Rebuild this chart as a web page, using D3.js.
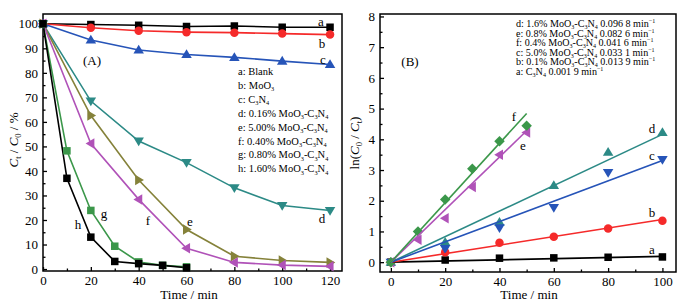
<!DOCTYPE html>
<html>
<head>
<meta charset="utf-8">
<script src="https://cdn.jsdelivr.net/npm/d3@7"></script>
<style>
  body { margin: 0; background: #fff; }
  svg text { font-family: "Liberation Serif", "DejaVu Serif", serif; font-weight: normal; fill: #000; }
</style>
</head>
<body>
<div id="chart"></div>
<script>
// ---- data, panel A: C/C0 (%) vs time ----
var timeA = [0, 20, 40, 60, 80, 100, 120];
var timeFast = [0, 10, 20, 30, 40, 50, 60];
var blankA = [100, 99.7, 99.4, 98.9, 99.1, 98.6, 98.6];
var moo3A = [100, 98.4, 97.2, 96.6, 96.4, 96.0, 95.6];
var c3n4A = [100, 93.4, 89.3, 87.5, 86.3, 84.8, 83.4];
var d016A = [100, 68.5, 52.2, 43.4, 33.1, 25.9, 23.9];
var e500A = [100, 62.6, 36.3, 16.1, 5.2, 3.5, 2.7];
var f040A = [100, 51.2, 28.4, 8.5, 2.7, 1.6, 1.1];
var g080A = [100, 48.2, 23.9, 9.3, 2.9, 1.5, 0.9];
var h160A = [100, 37, 13, 3.1, 2.2, 1.5, 0.5];
var curveLabelsA = ["a", "b", "c", "d", "e", "f", "g", "h"];
var legendA = [
  ["a: Blank"], ["b: MoO", "3"], ["c: C", "3", "N", "4"],
  ["d: 0.16% MoO", "3", "-C", "3", "N", "4"],
  ["e: 5.00% MoO", "3", "-C", "3", "N", "4"],
  ["f: 0.40% MoO", "3", "-C", "3", "N", "4"],
  ["g: 0.80% MoO", "3", "-C", "3", "N", "4"],
  ["h: 1.60% MoO", "3", "-C", "3", "N", "4"]
];

// ---- data, panel B: ln(C0/C) vs time ----
var timeB = [0, 20, 40, 60, 80, 100];
var timeB2 = [0, 10, 20, 30, 40, 50];
var aB = [0, 0.07, 0.13, 0.14, 0.16, 0.17];
var bB = [0, 0.32, 0.63, 0.83, 1.10, 1.35];
var cB = [0, 0.44, 1.12, 1.78, 2.92, 3.34];
var dB = [0, 0.65, 1.3, 2.5, 3.58, 4.22];
var eB = [0, 0.73, 1.43, 2.45, 3.5, 4.22];
var fB = [0, 1.0, 2.04, 3.04, 3.94, 4.44];
// fitted line end points [x, y], each line starts at (0, 0)
var fitEndB = { a: [100, 0.19], b: [100, 1.39], c: [100, 3.31], d: [100, 4.16], e: [50, 4.28], f: [50, 4.84] };
var legendB = [
  ["d: 1.6% MoO", "3", "-C", "3", "N", "4", " 0.096 8 min", "−1"],
  ["e: 0.8% MoO", "3", "-C", "3", "N", "4", " 0.082 6 min", "−1"],
  ["f: 0.4% MoO", "3", "-C", "3", "N", "4", " 0.041 6 min", "−1"],
  ["c: 5.0% MoO", "3", "-C", "3", "N", "4", " 0.033 1 min", "−1"],
  ["b: 0.1% MoO", "3", "-C", "3", "N", "4", " 0.013 9 min", "−1"],
  ["a: C", "3", "N", "4", " 0.001 9 min", "−1"]
];

var colors = {
  black: "#000000", red: "#f52a2a", blue: "#2654b8", teal: "#2c8a86",
  olive: "#85823a", magenta: "#b052b8", green: "#3b974a"
};

var svg = d3.select("#chart").append("svg")
  .attr("width", 686).attr("height", 304);

// marker generator
function marker(g, type, color, x, y, size) {
  var s = size;
  if (type == "square") {
    g.append("rect").attr("x", x - s / 2).attr("y", y - s / 2)
      .attr("width", s).attr("height", s).attr("fill", color);
  } else if (type == "circle") {
    g.append("circle").attr("cx", x).attr("cy", y).attr("r", s / 2 + 0.5).attr("fill", color);
  } else if (type == "diamond") {
    var r = s / 2 + 1.5;
    g.append("path").attr("d", `M${x},${y - r}L${x + r},${y}L${x},${y + r}L${x - r},${y}Z`).attr("fill", color);
  } else {
    var r2 = s / 2 + 1.5, h = r2 * 0.9;
    var p;
    if (type == "up") p = [[x, y - r2], [x + r2, y + h * 0.75], [x - r2, y + h * 0.75]];
    if (type == "down") p = [[x, y + r2], [x + r2, y - h * 0.75], [x - r2, y - h * 0.75]];
    if (type == "left") p = [[x - r2, y], [x + h * 0.75, y - r2], [x + h * 0.75, y + r2]];
    if (type == "right") p = [[x + r2, y], [x - h * 0.75, y - r2], [x - h * 0.75, y + r2]];
    g.append("path").attr("d", "M" + p.join("L") + "Z").attr("fill", color);
  }
}

// text with subscripts / superscripts: parts alternate normal, script
function richText(g, parts, x, y, size) {
  var t = g.append("text").attr("x", x).attr("y", y).attr("font-size", size + "px");
  parts.forEach(function (p, i) {
    var span = t.append("tspan").text(p);
    if (i % 2 == 1) {
      var shift = (p == "−1") ? -size * 0.35 : size * 0.22;
      span.attr("font-size", (size * 0.6) + "px").attr("dy", shift);
    } else if (i > 0) {
      var back = (parts[i - 1] == "−1") ? size * 0.35 : -size * 0.22;
      span.attr("dy", back);
    }
  });
  return t;
}

function drawAxes(g, x, y, xMajor, xMinor, yMajor, yMinor) {
  var bottom = y.range()[0], left = x.range()[0];
  g.append("g").attr("transform", `translate(0,${bottom})`)
    .call(d3.axisBottom(x).tickValues(xMajor).tickSize(-4).tickPadding(5).tickSizeOuter(0));
  g.append("g").attr("transform", `translate(0,${bottom})`)
    .call(d3.axisBottom(x).tickValues(xMinor).tickSize(-2.5).tickFormat("").tickSizeOuter(0));
  g.append("g").attr("transform", `translate(${left},0)`)
    .call(d3.axisLeft(y).tickValues(yMajor).tickSize(-4).tickPadding(5).tickSizeOuter(0));
  g.append("g").attr("transform", `translate(${left},0)`)
    .call(d3.axisLeft(y).tickValues(yMinor).tickSize(-2.5).tickFormat("").tickSizeOuter(0));
  g.selectAll(".domain").remove();
  g.selectAll(".tick line").attr("stroke", "#000").attr("stroke-width", 1.3);
  g.selectAll(".tick text").attr("font-size", "13px");
  g.append("rect").attr("x", left).attr("y", y.range()[1])
    .attr("width", x.range()[1] - left)
    .attr("height", bottom - y.range()[1])
    .attr("fill", "none").attr("stroke", "#000").attr("stroke-width", 1.5);
}

// ================= panel A =================
var gA = svg.append("g");
var xA = d3.scaleLinear().domain([0, 125]).range([43, 342]);
var yA = d3.scaleLinear().domain([-0.8, 104]).range([271, 14]);
drawAxes(gA, xA, yA,
  d3.range(0, 121, 20), d3.range(10, 121, 20),
  d3.range(0, 101, 10), d3.range(5, 101, 10));

var seriesA = [
  { t: timeA, v: blankA, color: colors.black, m: "square" },
  { t: timeA, v: moo3A, color: colors.red, m: "circle" },
  { t: timeA, v: c3n4A, color: colors.blue, m: "up" },
  { t: timeA, v: d016A, color: colors.teal, m: "down" },
  { t: timeA, v: e500A, color: colors.olive, m: "right" },
  { t: timeA, v: f040A, color: colors.magenta, m: "left" },
  { t: timeFast, v: g080A, color: colors.green, m: "square" },
  { t: timeFast, v: h160A, color: colors.black, m: "square" }
];
var lineA = d3.line().x(d => xA(d[0])).y(d => yA(d[1]));
seriesA.forEach(function (s) {
  var pts = s.t.map((t, i) => [t, s.v[i]]);
  gA.append("path").datum(pts).attr("d", lineA)
    .attr("fill", "none").attr("stroke", s.color).attr("stroke-width", 1.6);
});
seriesA.forEach(function (s) {
  s.t.forEach(function (t, i) {
    marker(gA, s.m, s.color, xA(t), yA(s.v[i]), 7.5);
  });
});

// curve letter positions in pixels
var labelPosA = [[321, 26], [322, 48], [323, 64], [322, 223], [190, 226], [148, 225], [104, 218], [78, 229]];
gA.selectAll(".lab").data(curveLabelsA).enter().append("text")
  .attr("x", (d, i) => labelPosA[i][0]).attr("y", (d, i) => labelPosA[i][1])
  .attr("text-anchor", "middle").attr("font-size", "13px").text(d => d);

gA.append("text").attr("x", 92).attr("y", 65).attr("text-anchor", "middle")
  .attr("font-size", "13px").text("(A)");

legendA.forEach(function (parts, i) {
  richText(gA, parts, 238, 75 + i * 13.9, 10.5);
});

gA.append("text").attr("x", 189).attr("y", 299).attr("text-anchor", "middle")
  .attr("font-size", "13px").text("Time / min");

var yTitleA = gA.append("text").attr("transform", "translate(18,140) rotate(-90)")
  .attr("text-anchor", "middle").attr("font-size", "13px");
yTitleA.append("tspan").attr("font-style", "italic").text("C");
yTitleA.append("tspan").attr("font-size", "8.5px").attr("dy", 3).text("t");
yTitleA.append("tspan").attr("dy", -3).text(" / ");
yTitleA.append("tspan").attr("font-style", "italic").text("C");
yTitleA.append("tspan").attr("font-size", "8.5px").attr("dy", 3).text("0");
yTitleA.append("tspan").attr("dy", -3).text(" / %");

// ================= panel B =================
var gB = svg.append("g");
var xB = d3.scaleLinear().domain([-4, 105]).range([380, 676]);
var yB = d3.scaleLinear().domain([-0.32, 8.08]).range([272, 14]);
drawAxes(gB, xB, yB,
  d3.range(0, 101, 20), d3.range(10, 101, 20),
  d3.range(0, 9, 1), d3.range(0.5, 8, 1));

var seriesB = [
  { key: "a", t: timeB, v: aB, color: colors.black, m: "square" },
  { key: "b", t: timeB, v: bB, color: colors.red, m: "circle" },
  { key: "d", t: timeB, v: dB, color: colors.teal, m: "up" },
  { key: "c", t: timeB, v: cB, color: colors.blue, m: "down" },
  { key: "e", t: timeB2, v: eB, color: colors.magenta, m: "left" },
  { key: "f", t: timeB2, v: fB, color: colors.green, m: "diamond" }
];
var lineB = d3.line().x(d => xB(d[0])).y(d => yB(d[1]));
seriesB.forEach(function (s) {
  s.t.forEach(function (t, i) {
    marker(gB, s.m, s.color, xB(t), yB(s.v[i]), 7.5);
  });
});
seriesB.forEach(function (s) {
  gB.append("path").datum([[0, 0], fitEndB[s.key]]).attr("d", lineB)
    .attr("fill", "none").attr("stroke", s.color).attr("stroke-width", 1.6);
});

var curveLabelsB = ["f", "e", "d", "c", "b", "a"];
var labelPosB = [[514, 121], [523, 150], [652, 133], [652, 160], [652, 217], [652, 254]];
gB.selectAll(".lab").data(curveLabelsB).enter().append("text")
  .attr("x", (d, i) => labelPosB[i][0]).attr("y", (d, i) => labelPosB[i][1])
  .attr("text-anchor", "middle").attr("font-size", "13px").text(d => d);

gB.append("text").attr("x", 410).attr("y", 66).attr("text-anchor", "middle")
  .attr("font-size", "13px").text("(B)");

legendB.forEach(function (parts, i) {
  richText(gB, parts, 516, 27 + i * 9.5, 10.1);
});

gB.append("text").attr("x", 529).attr("y", 299).attr("text-anchor", "middle")
  .attr("font-size", "13px").text("Time / min");

var yTitleB = gB.append("text").attr("transform", "translate(359,143) rotate(-90)")
  .attr("text-anchor", "middle").attr("font-size", "13px");
yTitleB.append("tspan").text("ln(");
yTitleB.append("tspan").attr("font-style", "italic").text("C");
yTitleB.append("tspan").attr("font-size", "8.5px").attr("dy", 3).text("0");
yTitleB.append("tspan").attr("dy", -3).text(" / ");
yTitleB.append("tspan").attr("font-style", "italic").text("C");
yTitleB.append("tspan").attr("font-size", "8.5px").attr("dy", 3).text("t");
yTitleB.append("tspan").attr("dy", -3).text(")");
</script>
</body>
</html>
